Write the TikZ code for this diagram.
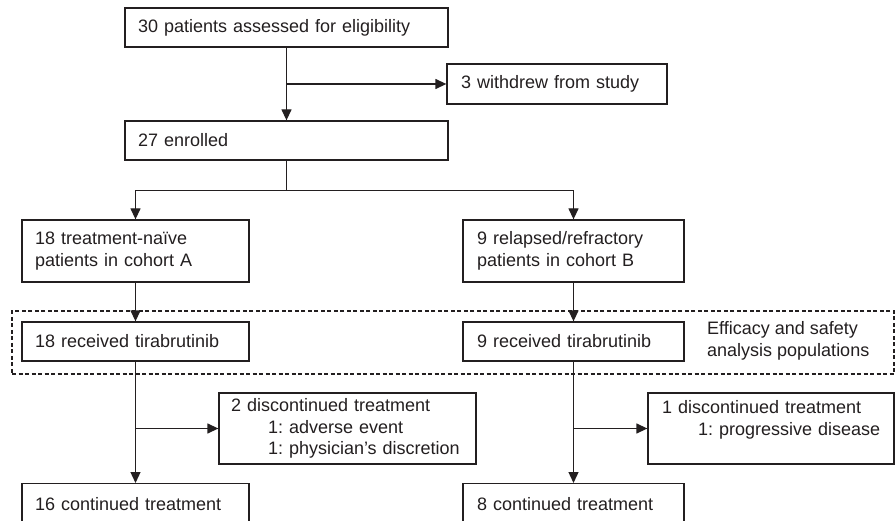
\documentclass[tikz,border=0pt]{standalone}
\usepackage{fontspec}
\setmainfont{Liberation Sans}
\usetikzlibrary{arrows.meta}
\definecolor{ink}{HTML}{231F20}
\frenchspacing
\begin{document}
\begin{tikzpicture}[x=1pt,y=-1pt,
  font=\fontsize{18}{21.6}\selectfont\frenchspacing,
  fbox/.style={draw=ink, line width=1.3pt, rectangle, inner ysep=0pt, align=left, text=ink},
  arr/.style={draw=ink, line width=1.3pt, -{Triangle[length=11pt,width=10pt]}},
  ln/.style={draw=ink, line width=1.3pt},
  popbox/.style={draw=ink, line width=1.1pt, dash pattern=on 4pt off 2.5pt, rectangle, inner sep=0pt}
]
\useasboundingbox (0,0) rectangle (896,521);
\clip (0,0) rectangle (896,521);
\fill[white] (0,0) rectangle (896,521);

% dashed population box
\node[popbox, minimum width=882pt, minimum height=63pt] (pop) at (453,342.5) {};
\node[anchor=west, align=left, inner sep=0pt, text=ink] (poptext) at (707,341) {Efficacy and safety\\analysis populations};

\node[fbox, inner xsep=13pt, text width=297pt, minimum height=39pt] (assess) at (286.5,27.5) {30 patients assessed for eligibility};
\node[fbox, inner xsep=14pt, text width=192pt, minimum height=40pt] (withdrew) at (557,84) {3 withdrew from study};
\node[fbox, inner xsep=13pt, text width=297pt, minimum height=39pt] (enrolled) at (286.5,140.5) {27 enrolled};

\node[fbox, inner xsep=13pt, text width=201pt, minimum height=62pt] (cohA) at (135.5,251) {18 treatment-naïve\\patients in cohort A};
\node[fbox, inner xsep=14pt, text width=193pt, minimum height=62pt] (cohB) at (573.5,251) {9 relapsed/refractory\\patients in cohort B};

\node[fbox, inner xsep=13pt, text width=201pt, minimum height=39pt] (recA) at (135.5,341.5) {18 received tirabrutinib};
\node[fbox, inner xsep=14pt, text width=193pt, minimum height=39pt] (recB) at (573.5,341.5) {9 received tirabrutinib};

\node[fbox, inner xsep=12pt, text width=233pt, minimum height=71pt] (discA) at (347.5,428.5) {\mbox{2 discontinued treatment}\\\mbox{\hspace*{37pt}1: adverse event}\\\mbox{\hspace*{37pt}1: physician’s discretion}};
\node[fbox, inner xsep=14pt, text width=218pt, minimum height=71pt] (discB) at (771,428.5) {\mbox{1 discontinued treatment}\\\mbox{\hspace*{36pt}1: progressive disease}\\\mbox{}};

\node[fbox, inner xsep=13pt, text width=201pt, minimum height=40pt, anchor=north] (contA) at (135.5,483) {16 continued treatment};
\node[fbox, inner xsep=14pt, text width=193pt, minimum height=40pt, anchor=north] (contB) at (573.5,483) {8 continued treatment};

% connectors
\draw[arr] (assess.south) -- (enrolled.north);
\draw[arr] (assess.south |- withdrew.west) -- (withdrew.west);
\draw[ln] (enrolled.south) -- ++(0,30) coordinate (split);
\draw[arr] (split) -| (cohA.north);
\draw[arr] (split) -| (cohB.north);
\draw[arr] (cohA.south) -- (recA.north);
\draw[arr] (cohB.south) -- (recB.north);
\draw[arr] (recA.south) -- (contA.north);
\draw[arr] (recB.south) -- (contB.north);
\draw[arr] (recA.south |- discA.west) -- (discA.west);
\draw[arr] (recB.south |- discB.west) -- (discB.west);
\end{tikzpicture}
\end{document}
